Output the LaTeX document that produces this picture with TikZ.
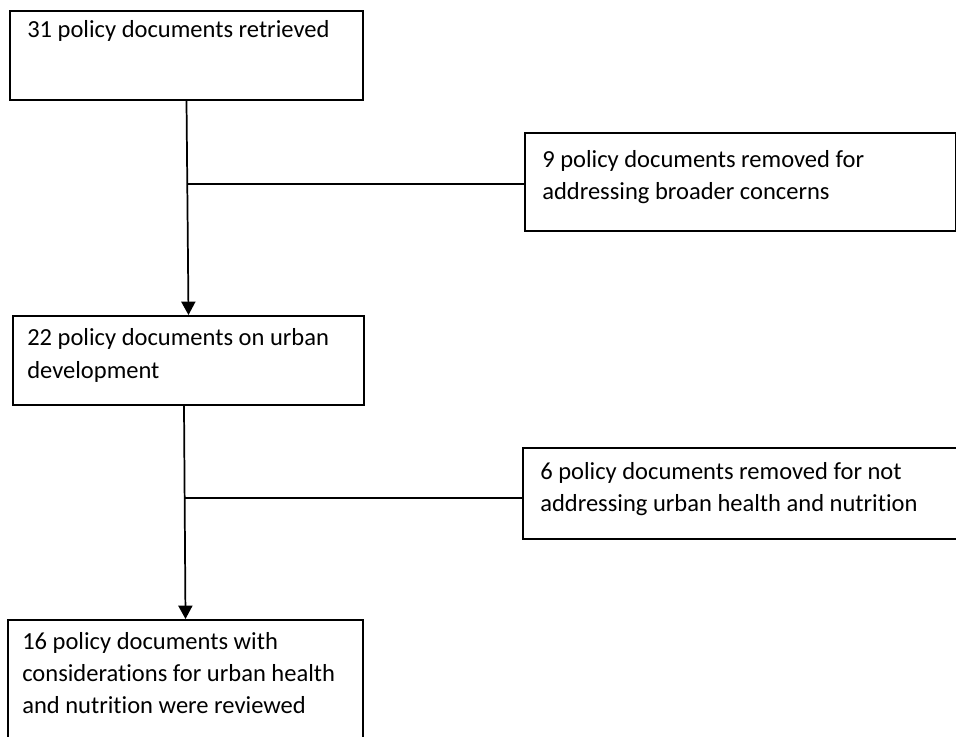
\documentclass[tikz,border=0pt]{standalone}
\usepackage{fontspec}
\setmainfont{Carlito}[Ligatures=NoCommon]
\usetikzlibrary{arrows.meta,calc}
\begin{document}
\begin{tikzpicture}[x=0.75pt,y=-0.75pt,
  box/.style={draw=black,line width=1.5pt,rectangle,inner sep=0pt,anchor=north west},
  txt/.style={anchor=base west,inner sep=0pt,font=\fontsize{18.4pt}{24.5pt}\selectfont},
  conn/.style={draw=black,line width=1.3pt},
  arr/.style={conn,-{Triangle[width=10.5pt,length=10pt]}}]
\useasboundingbox[fill=white] (0,0) rectangle (956,736);
% boxes
\node[box,minimum width=353*0.75pt,minimum height=89*0.75pt] (b1) at (9,10) {};
\node[box,minimum width=431*0.75pt,minimum height=98*0.75pt] (b2) at (524,132) {};
\node[box,minimum width=351*0.75pt,minimum height=89*0.75pt] (b3) at (12,315) {};
\node[box,minimum width=440*0.75pt,minimum height=91*0.75pt] (b4) at (522,447) {};
\node[box,minimum width=355*0.75pt,minimum height=150*0.75pt] (b5) at (7,619) {};
% texts
\node[txt] (t1) at (27,37) {31 policy documents retrieved};
\node[txt] (t2a) at (542,167) {9 policy documents removed for};
\node[txt] (t2b) at (542,199) {addressing broader concerns};
\node[txt] (t3a) at (27,345) {22 policy documents on urban};
\node[txt] (t3b) at (27,378) {development};
\node[txt] (t4a) at (540,479) {6 policy documents removed for not};
\node[txt] (t4b) at (540,511) {addressing urban health and nutrition};
\node[txt] (t5a) at (22,649) {16 policy documents with};
\node[txt] (t5b) at (22,681) {considerations for urban health};
\node[txt] (t5c) at (22,713) {and nutrition were reviewed};
% connectors
\draw[arr] (b1.south) -- (b3.north);
\coordinate (j1) at (187,184);
\draw[conn] (j1) -- (j1 -| b2.west);
\draw[arr] ([xshift=-4.5*0.75pt]b3.south) -- (b5.north);
\coordinate (j2) at (184,498);
\draw[conn] (j2) -- (j2 -| b4.west);
\end{tikzpicture}
\end{document}
